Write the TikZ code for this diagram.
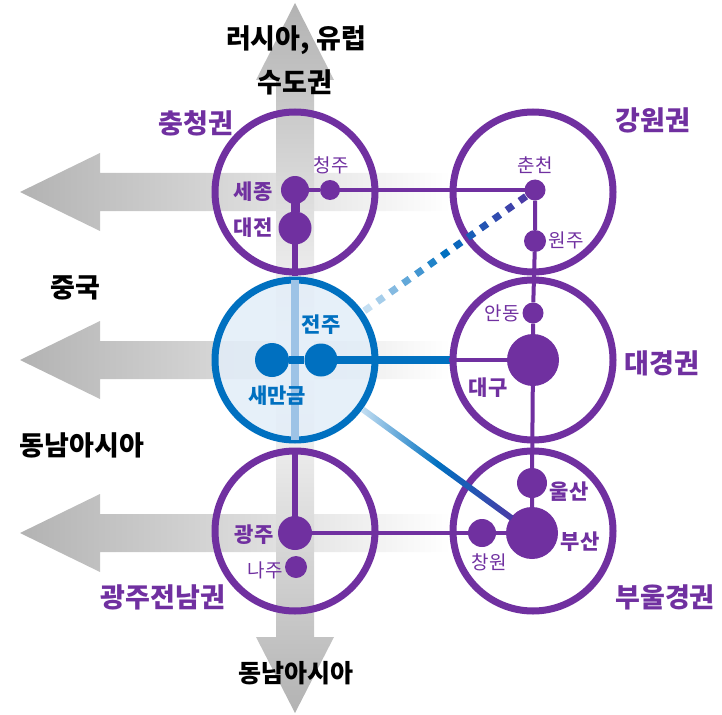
\documentclass[tikz,border=0pt]{standalone}
\usepackage{fontspec}
\setmainfont{Noto Sans CJK KR}
\usepackage{xcolor}
\usepackage{tikz}
\usetikzlibrary{calc}

\definecolor{regpurple}{HTML}{7030A0}
\definecolor{smblue}{HTML}{0070C0}
\definecolor{smfill}{HTML}{E2EDF8}
\definecolor{smline}{HTML}{9DC3E6}
\definecolor{lnlight}{HTML}{C5DFF2}
\definecolor{lndark}{HTML}{4B3AA6}

\begin{document}
\begin{tikzpicture}[x=1pt,y=-1pt,
    region/.style={circle,draw=regpurple,line width=7pt,minimum size=160pt,inner sep=0pt},
    city/.style={circle,fill=regpurple,inner sep=0pt,minimum size=#1},
    hub/.style={circle,fill=smblue,inner sep=0pt,minimum size=#1},
    link/.style={regpurple,line width=4pt,shorten <=-1pt,shorten >=-1pt},
    trunk/.style={regpurple,line width=6.5pt,shorten <=-1pt},
    bigtxt/.style={font=\fontsize{27}{29}\selectfont\bfseries},
    citytxt/.style={regpurple,font=\fontsize{21}{23}\selectfont\bfseries},
    smalltxt/.style={regpurple,font=\fontsize{19}{21}\selectfont}]
  \useasboundingbox (0,0) rectangle (722,714);
  % Gateway arrows to the west
  \shade[left color=gray!60,right color=white] (20,192) -- (100,153) -- (100,173) -- (450,173) -- (450,211) -- (100,211) -- (100,231) -- cycle;
  \shade[left color=gray!60,right color=white] (20,360) -- (100,321) -- (100,341) -- (450,341) -- (450,379) -- (100,379) -- (100,399) -- cycle;
  \shade[left color=gray!60,right color=white] (20,533) -- (100,494) -- (100,514) -- (450,514) -- (450,552) -- (100,552) -- (100,572) -- cycle;
  % Gateway arrows north and south
  \shade[top color=gray!60,bottom color=white] (295,3) -- (334,80) -- (314,80) -- (314,360) -- (276,360) -- (276,80) -- (256,80) -- cycle;
  \shade[top color=white,bottom color=gray!60] (276,360) -- (314,360) -- (314,637) -- (334,637) -- (295,713) -- (256,637) -- (276,637) -- cycle;

  % Regions
  \node[region] (cc) at (295,192) {};
  \node[region] (gw) at (533,192) {};
  \node[region] (dg) at (533,360) {};
  \node[region] (gj) at (295,531) {};
  \node[region] (bu) at (533,531) {};
  \node[region,draw=smblue,fill=smfill,fill opacity=.85] (sm) at (295,360) {};
  \draw[smline,line width=8pt,shorten <=3.5pt,shorten >=3.5pt] (sm.north) -- (sm.south);

  % Cities
  \node[city=28pt] (sejong) at (295,190) {};
  \node[city=20pt] (cheongju) at (330,190) {};
  \node[city=33pt] (daejeon) at (295,228) {};
  \node[city=21pt] (chuncheon) at (535,190) {};
  \node[city=22pt] (wonju) at (535,241) {};
  \node[city=21pt] (andong) at (533,313) {};
  \node[city=52pt] (daegu) at (533,360) {};
  \node[city=30pt] (ulsan) at (532,483) {};
  \node[city=52pt] (busan) at (532,533) {};
  \node[city=28pt] (changwon) at (482,533) {};
  \node[city=34pt] (gwangju) at (295,533) {};
  \node[city=22pt] (naju) at (296,567) {};
  \node[hub=34pt] (saemangeum) at (272,360) {};
  \node[hub=33pt] (jeonju) at (321,360) {};

  % Links
  \draw[link] (sejong) -- (cheongju) -- (chuncheon);
  \draw[regpurple,line width=9pt,shorten <=-1pt,shorten >=-1pt] (sejong) -- (daejeon);
  \draw[trunk] (daejeon) -- (cc.south);
  \draw[trunk] (gwangju) -- (gj.north);
  \draw[link] (chuncheon) -- (wonju) -- (andong) -- (daegu) -- (ulsan) -- (busan);
  \draw[link] (gwangju) -- (changwon) -- (busan);
  \draw[smblue,line width=8pt,shorten <=-1pt] (saemangeum) -- (jeonju) -- (dg.west);
  \draw[link] (dg.west) -- (daegu);

  % Saemangeum to Busan
  \coordinate (bA) at ($(sm.center)!84pt!(busan.center)$);
  \coordinate (bB) at ($(busan.center)!25pt!(sm.center)$);
  \shade[left color=lnlight,right color=lndark,middle color=smblue] ($(bA)!3pt!90:(bB)$) -- ($(bA)!3pt!-90:(bB)$) -- ($(bB)!3pt!90:(bA)$) -- ($(bB)!3pt!-90:(bA)$) -- cycle;
  % Saemangeum to Chuncheon (planned)
  \coordinate (dA) at ($(sm.center)!85pt!(chuncheon.center)$);
  \coordinate (dB) at ($(chuncheon.center)!11pt!(sm.center)$);
  \foreach \i in {0,...,12}{
    \pgfmathsetmacro\ta{\i/12.5}
    \pgfmathsetmacro\tb{(\i+0.5)/12.5}
    \pgfmathtruncatemacro\p{200*\i/12}
    \ifnum\p<100 \colorlet{dotc}{smblue!\p!lnlight}\else\pgfmathtruncatemacro\p{\p-100}\colorlet{dotc}{lndark!\p!smblue}\fi
    \draw[dotc,line width=7pt] ($(dA)!\ta!(dB)$) -- ($(dA)!\tb!(dB)$);
  }

  % Outside labels
  \node[bigtxt] (russia) at (296,40) {러시아, 유럽};
  \node[bigtxt] (capital) at (295,82) {수도권};
  \node[bigtxt] (china) at (75,288) {중국};
  \node[bigtxt] (seasiaW) at (82,445) {동남아시아};
  \node[bigtxt,font=\fontsize{25}{27}\selectfont\bfseries] (seasiaS) at (296,673) {동남아시아};
  % Region labels
  \node[bigtxt,regpurple] (ccname) at (196,123) {충청권};
  \node[bigtxt,regpurple] (gwname) at (653,120) {강원권};
  \node[bigtxt,regpurple] (dgname) at (662,363) {대경권};
  \node[bigtxt,regpurple] (buname) at (665,597) {부울경권};
  \node[bigtxt,regpurple] (gjname) at (163,597) {광주전남권};
  % City labels
  \node[citytxt] (sejongname) at (253,192) {세종};
  \node[citytxt] (daejeonname) at (253,228) {대전};
  \node[smalltxt] (cheongjuname) at (331,165) {청주};
  \node[smalltxt] (chuncheonname) at (535,165) {춘천};
  \node[smalltxt] (wonjuname) at (566,240) {원주};
  \node[smalltxt] (andongname) at (502,313) {안동};
  \node[citytxt] (daeguname) at (488,388) {대구};
  \node[citytxt] (ulsanname) at (569,492) {울산};
  \node[citytxt] (busanname) at (580,542) {부산};
  \node[smalltxt] (changwonname) at (489,562) {창원};
  \node[citytxt] (gwangjuname) at (254,535) {광주};
  \node[smalltxt] (najuname) at (265,570) {나주};
  \node[citytxt,smblue] (jeonjuname) at (321,325) {전주};
  \node[citytxt,smblue] (saemangeumname) at (277,396) {새만금};
\end{tikzpicture}
\end{document}
